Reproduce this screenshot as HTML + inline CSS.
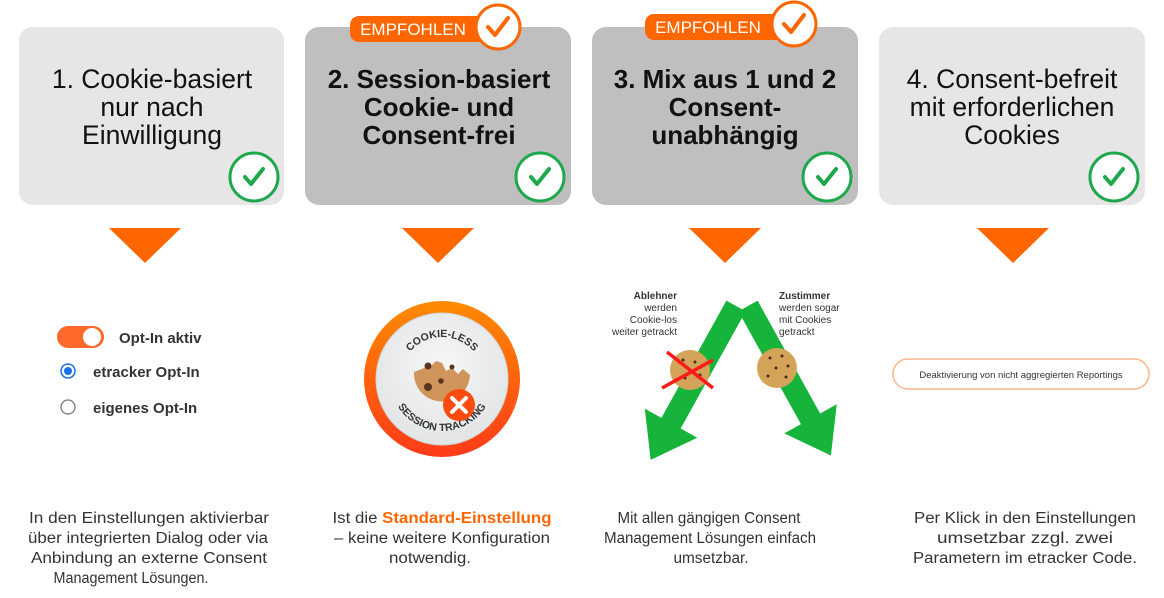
<!DOCTYPE html>
<html><head><meta charset="utf-8"><style>
html,body{margin:0;padding:0;background:#fff;}
svg{display:block;font-family:"Liberation Sans",Arial,sans-serif;}
</style></head><body>
<svg width="1164" height="598" viewBox="0 0 1164 598" xmlns="http://www.w3.org/2000/svg">
<defs>
<linearGradient id="og" x1="0" y1="0" x2="0" y2="1"><stop offset="0" stop-color="#ff8a00"/><stop offset="1" stop-color="#ff3b1a"/></linearGradient>
<radialGradient id="inner" cx="0.5" cy="0.4" r="0.6"><stop offset="0" stop-color="#f6f7f7"/><stop offset="1" stop-color="#e2e5e6"/></radialGradient>
<path id="arcTop" d="M400,379 A42,42 0 0 1 484,379"/>
<path id="arcBot" d="M390,379 A52,52 0 0 0 494,379"/>
</defs>
<rect x="19" y="27" width="265" height="178" rx="14" fill="#e6e6e6"/>
<rect x="305" y="27" width="266" height="178" rx="14" fill="#bfbfbf"/>
<rect x="592" y="27" width="266" height="178" rx="14" fill="#bfbfbf"/>
<rect x="879" y="27" width="266" height="178" rx="14" fill="#e6e6e6"/>

<g font-size="26.5" fill="#111" text-anchor="middle">
<text x="152" y="88">1. Cookie-basiert</text>
<text x="152" y="116">nur nach</text>
<text x="152" y="144">Einwilligung</text>
<text x="439" y="88" font-weight="bold" font-size="26">2. Session-basiert</text>
<text x="439" y="116" font-weight="bold" font-size="26">Cookie- und</text>
<text x="439" y="144" font-weight="bold" font-size="26">Consent-frei</text>
<text x="725" y="88" font-weight="bold" font-size="26">3. Mix aus 1 und 2</text>
<text x="725" y="116" font-weight="bold" font-size="26">Consent-</text>
<text x="725" y="144" font-weight="bold" font-size="26">unabhängig</text>
<text x="1012" y="88">4. Consent-befreit</text>
<text x="1012" y="116">mit erforderlichen</text>
<text x="1012" y="144">Cookies</text>
</g>

<g fill="#fff" stroke="#1ea84b" stroke-width="3">
<circle cx="254" cy="177" r="24"/><circle cx="540" cy="177" r="24"/>
<circle cx="827" cy="177" r="24"/><circle cx="1114" cy="177" r="24"/>
</g>
<g fill="none" stroke="#1ea84b" stroke-width="4" stroke-linecap="round" stroke-linejoin="round">
<path d="M245,177 l6,7 l12,-15"/><path d="M531,177 l6,7 l12,-15"/>
<path d="M818,177 l6,7 l12,-15"/><path d="M1105,177 l6,7 l12,-15"/>
</g>

<rect x="350" y="16" width="140" height="26" rx="9" fill="#ff6600"/>
<text x="413" y="35" font-size="17" fill="#fff" text-anchor="middle">EMPFOHLEN</text>
<circle cx="498" cy="27" r="22" fill="#fff" stroke="#ff6600" stroke-width="3"/>
<path d="M488,27 l7,8 l13,-17" fill="none" stroke="#ff6600" stroke-width="4" stroke-linecap="round" stroke-linejoin="round"/>
<rect x="645" y="14" width="140" height="26" rx="9" fill="#ff6600"/>
<text x="708" y="33" font-size="17" fill="#fff" text-anchor="middle">EMPFOHLEN</text>
<circle cx="794" cy="24" r="22" fill="#fff" stroke="#ff6600" stroke-width="3"/>
<path d="M784,24 l7,8 l13,-17" fill="none" stroke="#ff6600" stroke-width="4" stroke-linecap="round" stroke-linejoin="round"/>

<g fill="#ff6600">
<polygon points="109,228 181,228 145,263"/>
<polygon points="402,228 474,228 438,263"/>
<polygon points="689,228 761,228 725,263"/>
<polygon points="977,228 1049,228 1013,263"/>
</g>

<rect x="57" y="326" width="47" height="22" rx="11" fill="#ff6a2a"/>
<circle cx="92" cy="337" r="9" fill="#fff"/>
<text x="119" y="343" font-size="15" font-weight="bold" fill="#333">Opt-In aktiv</text>
<circle cx="68" cy="371" r="7" fill="#fff" stroke="#1a73e8" stroke-width="1.5"/>
<circle cx="68" cy="371" r="4" fill="#1a73e8"/>
<text x="93" y="377" font-size="15" font-weight="bold" fill="#333">etracker Opt-In</text>
<circle cx="68" cy="407" r="7" fill="#fff" stroke="#777" stroke-width="1.2"/>
<text x="93" y="413" font-size="15" font-weight="bold" fill="#333">eigenes Opt-In</text>

<circle cx="442" cy="379" r="78" fill="url(#og)"/>
<circle cx="442" cy="379" r="66" fill="url(#inner)" stroke="#d0d4d6" stroke-width="1"/>
<text font-size="10.5" font-weight="bold" fill="#333"><textPath href="#arcTop" startOffset="50%" text-anchor="middle">COOKIE-LESS</textPath></text>
<text font-size="10.5" font-weight="bold" fill="#333"><textPath href="#arcBot" startOffset="50%" text-anchor="middle">SESSION TRACKING</textPath></text>
<path d="M414,372 a28,28 0 1 0 56,3 l-7,-6 l-5,5 l-6,-6 l-6,3 l-4,-8 l-6,-2 l-4,4 z" fill="#d0955a"/>
<circle cx="428" cy="366" r="3.5" fill="#5a3520"/><circle cx="428" cy="387" r="4" fill="#5a3520"/><circle cx="441" cy="381" r="2.8" fill="#5a3520"/><circle cx="452" cy="367" r="2.5" fill="#5a3520"/>
<circle cx="459" cy="405" r="16" fill="#ff4a10"/>
<path d="M452,398 l14,14 M466,398 l-14,14" stroke="#fff" stroke-width="4" stroke-linecap="round"/>

<g fill="#16b43a">
<polygon transform="translate(736,306) rotate(29)" points="-11,0 11,0 11,134 30,134 0,176 -30,134 -11,134"/>
<polygon transform="translate(748,306) rotate(-29)" points="-11,0 11,0 11,129 30,129 0,171 -30,129 -11,129"/>
</g>
<circle cx="690" cy="370" r="20" fill="#d4a35a"/>
<circle cx="777" cy="368" r="20" fill="#d4a35a"/>
<g fill="#4a2a15">
<circle cx="683" cy="360" r="1.5"/><circle cx="695" cy="362" r="1.5"/><circle cx="700" cy="375" r="1.5"/><circle cx="685" cy="378" r="1.5"/>
<circle cx="770" cy="358" r="1.5"/><circle cx="782" cy="356" r="1.5"/><circle cx="776" cy="368" r="1.5"/><circle cx="768" cy="376" r="1.5"/><circle cx="786" cy="377" r="1.5"/><circle cx="788" cy="366" r="1.5"/>
</g>
<path d="M667,352 L713,388 M713,360 L662,388" stroke="#ff1a1a" stroke-width="3.5"/>
<g font-size="10" fill="#333">
<text x="677" y="299" text-anchor="end" font-weight="bold">Ablehner</text>
<text x="677" y="311" text-anchor="end">werden</text>
<text x="677" y="323" text-anchor="end">Cookie-los</text>
<text x="677" y="335" text-anchor="end">weiter getrackt</text>
<text x="779" y="299" font-weight="bold">Zustimmer</text>
<text x="779" y="311">werden sogar</text>
<text x="779" y="323">mit Cookies</text>
<text x="779" y="335">getrackt</text>
</g>

<rect x="893" y="359" width="256" height="30" rx="15" fill="#fff" stroke="#ffb48a" stroke-width="1.5"/>
<text x="1021" y="378" font-size="9.5" fill="#333" text-anchor="middle">Deaktivierung von nicht aggregierten Reportings</text>

<g font-size="15.5" fill="#333" text-anchor="middle">
<text x="149" y="523" textLength="240" lengthAdjust="spacingAndGlyphs">In den Einstellungen aktivierbar</text>
<text x="148" y="543" textLength="240" lengthAdjust="spacingAndGlyphs">über integrierten Dialog oder via</text>
<text x="149" y="563" textLength="236" lengthAdjust="spacingAndGlyphs">Anbindung an externe Consent</text>
<text x="131" y="583" textLength="155" lengthAdjust="spacingAndGlyphs">Management Lösungen.</text>
<text x="442" y="523" textLength="219" lengthAdjust="spacingAndGlyphs">Ist die <tspan fill="#ff6600" font-weight="bold">Standard-Einstellung</tspan></text>
<text x="442" y="543" textLength="216" lengthAdjust="spacingAndGlyphs">– keine weitere Konfiguration</text>
<text x="430" y="563" textLength="82" lengthAdjust="spacingAndGlyphs">notwendig.</text>
<text x="709" y="523" textLength="183" lengthAdjust="spacingAndGlyphs">Mit allen gängigen Consent</text>
<text x="710" y="543" textLength="212" lengthAdjust="spacingAndGlyphs">Management Lösungen einfach</text>
<text x="711" y="563" textLength="75" lengthAdjust="spacingAndGlyphs">umsetzbar.</text>
<text x="1025" y="523" textLength="222" lengthAdjust="spacingAndGlyphs">Per Klick in den Einstellungen</text>
<text x="1025" y="543" textLength="176" lengthAdjust="spacingAndGlyphs">umsetzbar zzgl. zwei</text>
<text x="1025" y="563" textLength="224" lengthAdjust="spacingAndGlyphs">Parametern im etracker Code.</text>
</g>
</svg>
</body></html>
